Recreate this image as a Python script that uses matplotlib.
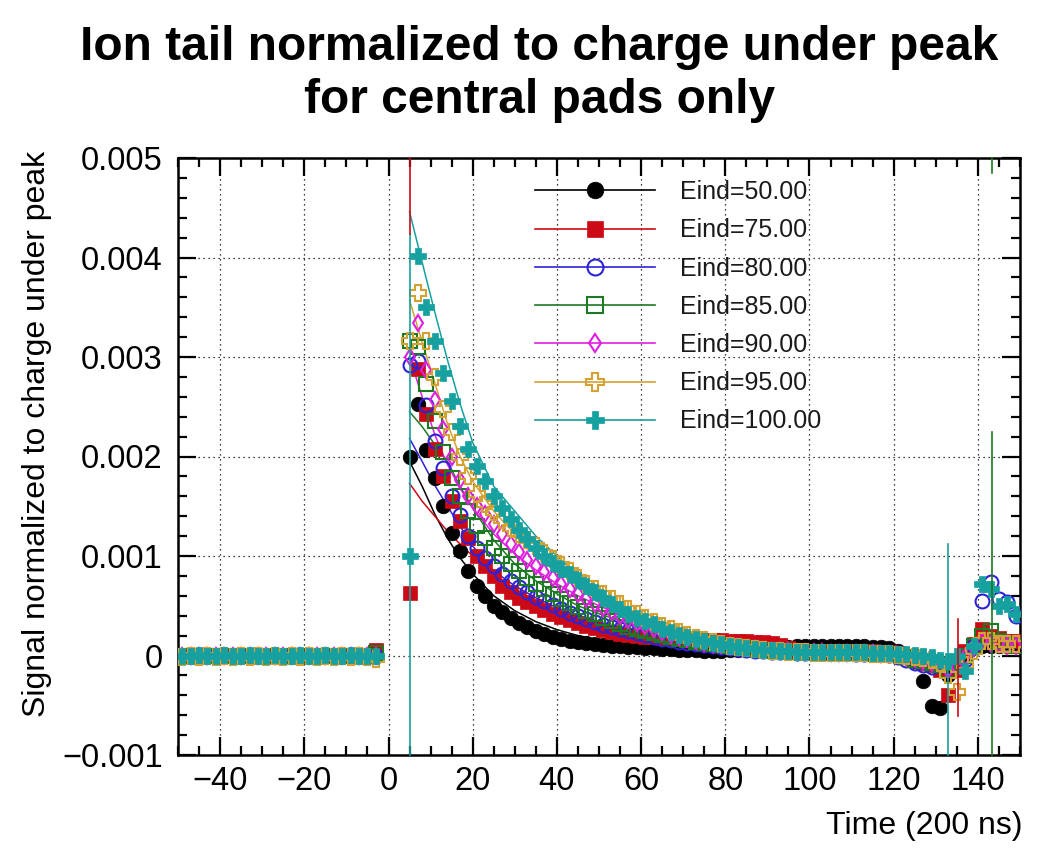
import numpy as np
import matplotlib
matplotlib.use("Agg")
import matplotlib.pyplot as plt
from matplotlib.lines import Line2D
from matplotlib.ticker import MultipleLocator, FixedLocator, FixedFormatter

plt.rcParams['font.family'] = ['Liberation Sans', 'DejaVu Sans']

# ---------------- data (signal in units of 1e-3) ----------------
labels = ["Eind=50.00", "Eind=75.00", "Eind=80.00", "Eind=85.00",
          "Eind=90.00", "Eind=95.00", "Eind=100.00"]

time_pre = np.arange(-49, -2, 2)      # 24 time bins before the pulse
time_post = np.arange(5, 150, 2)      # 73 time bins after the pulse

black_pre = [0.0, 0.01, 0.0, 0.0, 0.01, 0.0, 0.0, 0.01, 0.0, 0.0, 0.01, 0.0,
             0.0, 0.01, 0.0, 0.0, 0.01, 0.0, 0.0, 0.01, 0.0, 0.0, 0.01, 0.02]
red_pre = [0.01, 0.0, 0.01, 0.0, 0.0, 0.01, 0.0, 0.01, 0.0, 0.0, 0.01, 0.0,
           0.01, 0.0, 0.0, 0.01, 0.0, 0.01, 0.0, 0.0, 0.01, 0.0, 0.01, 0.06]
blue_pre = [-0.02, -0.01, -0.02, -0.01, -0.02, -0.01, -0.02, -0.01, -0.02, -0.01, -0.02, -0.01,
            -0.02, -0.01, -0.02, -0.01, -0.02, -0.01, -0.02, -0.01, -0.02, -0.01, -0.02, -0.01]
green_pre = [0.0, -0.01, 0.0, -0.01, 0.0, -0.01, 0.0, -0.01, 0.0, -0.01, 0.0, -0.01,
             0.0, -0.01, 0.0, -0.01, 0.0, -0.01, 0.0, -0.01, 0.0, -0.01, 0.0, 0.03]
magenta_pre = [-0.01, 0.0, -0.01, 0.0, -0.01, 0.0, -0.01, 0.0, -0.01, 0.0, -0.01, 0.0,
               -0.01, 0.0, -0.01, 0.0, -0.01, 0.0, -0.01, 0.0, -0.01, 0.0, -0.01, 0.0]
orange_pre = [-0.02, -0.01, -0.02, -0.01, -0.02, -0.01, -0.02, -0.01, -0.02, -0.01, -0.02, -0.01,
              -0.02, -0.01, -0.02, -0.01, -0.02, -0.01, -0.02, -0.01, -0.02, -0.01, -0.02, -0.04]
teal_pre = [0.0, 0.0, 0.01, 0.0, 0.0, 0.01, 0.0, 0.0, 0.01, 0.0, 0.0, 0.01,
            0.0, 0.0, 0.01, 0.0, 0.0, 0.01, 0.0, 0.0, 0.01, 0.0, 0.0, 0.0]

black_post = [2.0, 2.53, 2.07, 1.78, 1.5, 1.23, 1.05, 0.85, 0.7, 0.6,
              0.5, 0.44, 0.38, 0.33, 0.29, 0.25, 0.22, 0.19, 0.17, 0.15,
              0.14, 0.13, 0.12, 0.11, 0.1, 0.1, 0.09, 0.09, 0.08, 0.08,
              0.07, 0.07, 0.06, 0.06, 0.06, 0.05, 0.05, 0.05, 0.06, 0.06,
              0.07, 0.07, 0.08, 0.08, 0.09, 0.09, 0.1, 0.1, 0.1, 0.1,
              0.1, 0.1, 0.1, 0.1, 0.1, 0.09, 0.09, 0.08, 0.05, 0.0,
              -0.06, -0.26, -0.51, -0.53, -0.2, -0.05, 0.02, 0.08, 0.1, 0.1,
              0.1, 0.1, 0.1]
red_post = [0.63, 2.88, 2.43, 2.08, 1.8, 1.55, 1.35, 1.18, 1.0, 0.9,
            0.8, 0.7, 0.64, 0.58, 0.54, 0.5, 0.46, 0.42, 0.39, 0.36,
            0.33, 0.3, 0.28, 0.26, 0.24, 0.22, 0.21, 0.2, 0.19, 0.19,
            0.18, 0.18, 0.17, 0.17, 0.17, 0.16, 0.16, 0.16, 0.15, 0.15,
            0.15, 0.14, 0.14, 0.13, 0.11, 0.08, 0.06, 0.05, 0.05, 0.05,
            0.05, 0.05, 0.05, 0.05, 0.05, 0.05, 0.04, 0.04, 0.03, 0.0,
            -0.05, -0.08, -0.1, -0.15, -0.4, -0.15, 0.05, 0.12, 0.27, 0.2,
            0.18, 0.15, 0.15]
blue_post = [2.92, 2.96, 2.52, 2.16, 1.88, 1.6, 1.41, 1.2, 1.08, 0.98,
             0.9, 0.82, 0.75, 0.69, 0.64, 0.59, 0.55, 0.51, 0.47, 0.43,
             0.4, 0.37, 0.34, 0.31, 0.29, 0.27, 0.25, 0.23, 0.21, 0.19,
             0.17, 0.16, 0.14, 0.13, 0.12, 0.11, 0.1, 0.09, 0.08, 0.07,
             0.06, 0.05, 0.05, 0.04, 0.04, 0.04, 0.03, 0.03, 0.03, 0.03,
             0.03, 0.03, 0.03, 0.02, 0.02, 0.02, 0.02, 0.01, -0.02, -0.05,
             -0.08, -0.1, -0.12, -0.1, -0.12, -0.08, -0.05, 0.1, 0.55, 0.74,
             0.57, 0.54, 0.4]
green_post = [3.16, 3.1, 2.73, 2.36, 2.05, 1.78, 1.6, 1.45, 1.3, 1.18,
              1.08, 1.0, 0.92, 0.85, 0.78, 0.72, 0.67, 0.62, 0.57, 0.53,
              0.49, 0.45, 0.42, 0.38, 0.35, 0.32, 0.29, 0.27, 0.25, 0.23,
              0.21, 0.19, 0.17, 0.16, 0.14, 0.13, 0.12, 0.11, 0.1, 0.09,
              0.08, 0.07, 0.06, 0.05, 0.05, 0.04, 0.04, 0.04, 0.04, 0.03,
              0.03, 0.03, 0.03, 0.03, 0.03, 0.02, 0.02, 0.02, 0.01, -0.02,
              -0.05, -0.06, -0.08, -0.1, -0.15, -0.08, 0.0, 0.1, 0.2, 0.25,
              0.15, 0.12, 0.1]
magenta_post = [3.0, 3.34, 2.87, 2.57, 2.28, 2.0, 1.76, 1.6, 1.5, 1.42,
                1.32, 1.22, 1.12, 1.04, 0.96, 0.9, 0.84, 0.78, 0.72, 0.67,
                0.62, 0.57, 0.52, 0.48, 0.44, 0.4, 0.36, 0.33, 0.3, 0.27,
                0.24, 0.21, 0.19, 0.17, 0.15, 0.13, 0.12, 0.11, 0.1, 0.09,
                0.08, 0.07, 0.06, 0.05, 0.05, 0.05, 0.04, 0.04, 0.04, 0.04,
                0.03, 0.03, 0.03, 0.03, 0.03, 0.03, 0.02, 0.02, 0.01, -0.02,
                -0.04, -0.06, -0.08, -0.1, -0.15, -0.12, -0.02, 0.08, 0.15, 0.12,
                0.12, 0.1, 0.1]
orange_post = [3.16, 3.64, 3.16, 2.8, 2.48, 2.25, 2.0, 1.8, 1.62, 1.52,
               1.44, 1.36, 1.28, 1.22, 1.16, 1.1, 1.03, 0.97, 0.91, 0.85,
               0.78, 0.72, 0.67, 0.62, 0.57, 0.52, 0.47, 0.42, 0.38, 0.34,
               0.3, 0.27, 0.24, 0.21, 0.18, 0.16, 0.14, 0.12, 0.1, 0.09,
               0.08, 0.07, 0.06, 0.05, 0.05, 0.04, 0.04, 0.04, 0.03, 0.03,
               0.03, 0.03, 0.03, 0.03, 0.03, 0.02, 0.02, 0.02, 0.01, 0.0,
               -0.02, -0.03, -0.05, -0.08, -0.2, -0.37, -0.1, 0.05, 0.15, 0.15,
               0.12, 0.12, 0.12]
teal_post = [1.0, 4.02, 3.5, 3.16, 2.84, 2.56, 2.31, 2.08, 1.9, 1.75,
             1.6, 1.48, 1.37, 1.26, 1.17, 1.08, 1.0, 0.93, 0.87, 0.82,
             0.76, 0.7, 0.64, 0.58, 0.52, 0.47, 0.42, 0.38, 0.35, 0.32,
             0.27, 0.24, 0.21, 0.19, 0.17, 0.15, 0.13, 0.12, 0.1, 0.09,
             0.08, 0.07, 0.06, 0.06, 0.05, 0.05, 0.04, 0.04, 0.04, 0.04,
             0.04, 0.04, 0.04, 0.04, 0.04, 0.03, 0.03, 0.03, 0.02, 0.02,
             0.01, 0.0, -0.02, -0.05, -0.06, 0.0, -0.16, 0.1, 0.72, 0.67,
             0.5, 0.52, 0.42]

# fitted decay curves (1e-3)
fit_time = [5, 8, 11, 14, 17, 20, 25, 30, 35, 40, 45, 50, 60, 70, 80, 90, 100, 110, 120]
black_fit = [1.95, 1.7, 1.42, 1.18, 0.98, 0.82, 0.6, 0.45, 0.34, 0.26, 0.2, 0.16, 0.1, 0.07, 0.05, 0.04, 0.04, 0.04, 0.04]
red_fit = [1.73, 1.55, 1.4, 1.25, 1.12, 1.0, 0.82, 0.67, 0.55, 0.45, 0.38, 0.32, 0.22, 0.15, 0.1, 0.07, 0.05, 0.04, 0.03]
blue_fit = [2.18, 1.95, 1.71, 1.5, 1.3, 1.1, 0.85, 0.7, 0.58, 0.48, 0.4, 0.33, 0.22, 0.14, 0.09, 0.06, 0.04, 0.03, 0.03]
green_fit = [2.45, 2.3, 2.12, 1.95, 1.7, 1.48, 1.16, 0.92, 0.75, 0.62, 0.5, 0.42, 0.28, 0.18, 0.11, 0.07, 0.05, 0.04, 0.03]
magenta_fit = [3.0, 2.6, 2.22, 1.92, 1.68, 1.48, 1.22, 1.02, 0.86, 0.72, 0.6, 0.5, 0.32, 0.2, 0.12, 0.07, 0.05, 0.04, 0.03]
orange_fit = [3.57, 3.15, 2.74, 2.33, 2.0, 1.75, 1.45, 1.22, 1.05, 0.9, 0.75, 0.62, 0.4, 0.24, 0.14, 0.08, 0.05, 0.04, 0.03]
teal_fit = [4.46, 3.95, 3.45, 2.97, 2.53, 2.14, 1.7, 1.45, 1.2, 1.0, 0.8, 0.63, 0.38, 0.22, 0.14, 0.08, 0.05, 0.04, 0.03]

# vertical error-bar-like segments (time, low, high in 1e-3, series index)
seg_time = [5, 5, 132.9, 135.3, 143.3, 143.3]
seg_low = [-1.0, 4.24, -1.0, -0.61, -1.0, 4.85]
seg_high = [4.24, 5.0, 1.12, 0.37, 2.25, 5.0]
seg_series = [6, 1, 6, 1, 3, 3]

# ---------------- styles ----------------
colors = ['#000000', '#cc0a16', '#2d22d8', '#1c7a23', '#e01ee0', '#d4a233', '#16a0a0']
markers = ['o', 's', 'o', 's', 'd', 'P', 'P']
filled = [True, True, False, False, False, False, True]
msizes = [10.5, 9.5, 10, 9.5, 8, 11, 11]

pre = [black_pre, red_pre, blue_pre, green_pre, magenta_pre, orange_pre, teal_pre]
post = [black_post, red_post, blue_post, green_post, magenta_post, orange_post, teal_post]
fits = [black_fit, red_fit, blue_fit, green_fit, magenta_fit, orange_fit, teal_fit]

fig = plt.figure(figsize=(10.62, 8.57), dpi=100)
fig.patch.set_facecolor('white')
ax = fig.add_axes([178/1062, 1 - 755/857, (1020-178)/1062, (755-158)/857])

scale = 1e-3
for i in range(7):
    ax.plot(fit_time, np.array(fits[i]) * scale, color=colors[i], lw=1.1, zorder=2 + i * 0.1)

for i in range(7):
    t = np.concatenate([time_pre, time_post])
    v = np.concatenate([pre[i], post[i]]) * scale
    kw = dict(marker=markers[i], linestyle='none', ms=msizes[i], color=colors[i],
              zorder=3 + i * 0.1)
    if filled[i]:
        kw.update(mfc=colors[i], mec=colors[i], mew=0.5)
    else:
        kw.update(mfc='none', mec=colors[i], mew=1.5)
    ax.plot(t, v, **kw)

for tx, lo, hi, si in zip(seg_time, seg_low, seg_high, seg_series):
    ax.plot([tx, tx], [lo * scale, hi * scale], color=colors[si], lw=1.2, zorder=4, clip_on=False)

ax.set_xlim(-50, 150)
ax.set_ylim(-0.001, 0.005)

ax.xaxis.set_major_locator(MultipleLocator(20))
ax.xaxis.set_minor_locator(MultipleLocator(5))
yt = [-0.001, 0, 0.001, 0.002, 0.003, 0.004, 0.005]
ax.yaxis.set_major_locator(FixedLocator(yt))
ax.yaxis.set_major_formatter(FixedFormatter(['\u22120.001', '0', '0.001', '0.002', '0.003', '0.004', '0.005']))
ax.yaxis.set_minor_locator(MultipleLocator(0.0002))

ax.tick_params(which='both', direction='in', top=True, right=True, width=1.6)
ax.tick_params(which='major', length=13, labelsize=23.5)
ax.tick_params(axis='x', which='major', pad=8)
ax.tick_params(axis='y', which='major', pad=11)
ax.tick_params(which='minor', length=6.5)
for s in ax.spines.values():
    s.set_linewidth(1.8)

ax.grid(True, which='major', color='black', linestyle=(0, (1, 3)), lw=0.9)
ax.set_axisbelow(True)

handles = []
for i in range(7):
    h = Line2D([0], [0], color=colors[i], lw=1.2, marker=markers[i], ms=msizes[i] + 1.5,
               mfc=colors[i] if filled[i] else 'none', mec=colors[i],
               mew=0.5 if filled[i] else 1.5)
    handles.append(h)
leg = ax.legend(handles, labels, loc='upper left', bbox_to_anchor=((535-178)/842, (755-180)/597),
                frameon=False, fontsize=18, handlelength=4.8, handletextpad=1.0,
                labelspacing=0.57, borderpad=0, borderaxespad=0)
for txt in leg.get_texts():
    txt.set_color('#1a1a1a')

fig.text(0.508, 1 - 74/857, "Ion tail normalized to charge under peak\nfor central pads only",
         ha='center', va='center', fontsize=34.5, fontweight='bold', linespacing=1.23)
fig.text(37/1062, 1 - 434/857, "Signal normalized to charge under peak", rotation=90,
         ha='center', va='center', fontsize=23)
fig.text(1022/1062, 1 - 826/857, "Time (200 ns)", ha='right', va='center', fontsize=23)

fig.savefig("out.png", dpi=100, facecolor='white')
